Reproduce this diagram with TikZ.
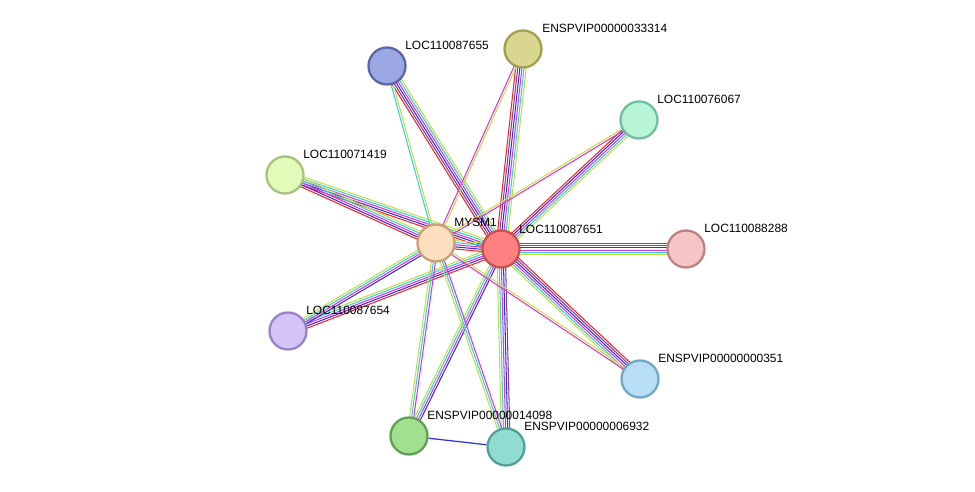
\documentclass[tikz,border=0pt]{standalone}
\usepackage{fontspec}
\setmainfont{Liberation Sans}
\usetikzlibrary{calc,backgrounds}
\definecolor{sred}{HTML}{FF2020}
\definecolor{slime}{HTML}{C0E040}
\definecolor{scyan}{HTML}{30D0E0}
\definecolor{smag}{HTML}{E030E0}
\definecolor{sblue}{HTML}{3030E0}
\definecolor{spurp}{HTML}{8040A0}
\tikzset{
  prot/.style={circle, draw, line width=1.3pt, minimum size=0.74cm, inner sep=0pt},
  lbl/.style={anchor=south west, inner sep=0pt, font=\fontsize{6.8}{7}\selectfont},
}
% bundle of parallel coloured lines between two nodes
\newcommand\bundle[3]{%
  \foreach \c [count=\i] in {#3} {
    \draw[\c, line width=0.6pt] ($(#1)!{(\i-#3len)*1.2pt}!90:(#2)$) -- ($(#2)!{(\i-#3len)*1.2pt}!-90:(#1)$);
  }}
\renewcommand\bundle[3]{%
  \foreach \c [count=\i] in {#3} {\xdef\bundlen{\i}}%
  \foreach \c [count=\i] in {#3} {
    \draw[\c, line width=0.6pt] ($(#1)!{(\i-(\bundlen+1)/2)*1.2pt}!90:(#2)$) -- ($(#2)!{(\i-(\bundlen+1)/2)*1.2pt}!-90:(#1)$);
  }}
\begin{document}
\begin{tikzpicture}[x=0.02cm,y=-0.02cm]
  \useasboundingbox (0,0) rectangle (975,492);
  % Proteine
  \node[prot, fill={rgb,255:red,255;green,128;blue,128}, draw={rgb,255:red,200;green,80;blue,80}] (n651) at (501,249) {};
  \node[prot, fill={rgb,255:red,253;green,222;blue,190}, draw={rgb,255:red,200;green,160;blue,120}] (mysm) at (436,243) {};
  \node[prot, fill={rgb,255:red,154;green,167;blue,227}, draw={rgb,255:red,90;green,102;blue,168}] (n655) at (387,66) {};
  \node[prot, fill={rgb,255:red,217;green,214;blue,143}, draw={rgb,255:red,160;green,160;blue,80}] (n314) at (523,49) {};
  \node[prot, fill={rgb,255:red,184;green,245;blue,214}, draw={rgb,255:red,112;green,192;blue,160}] (n067) at (639,120) {};
  \node[prot, fill={rgb,255:red,224;green,252;blue,184}, draw={rgb,255:red,168;green,192;blue,128}] (n419) at (285,175) {};
  \node[prot, fill={rgb,255:red,245;green,196;blue,196}, draw={rgb,255:red,192;green,128;blue,128}] (n288) at (686,249) {};
  \node[prot, fill={rgb,255:red,212;green,196;blue,248}, draw={rgb,255:red,154;green,128;blue,200}] (n654) at (288,331) {};
  \node[prot, fill={rgb,255:red,184;green,222;blue,245}, draw={rgb,255:red,112;green,168;blue,200}] (n351) at (640,379) {};
  \node[prot, fill={rgb,255:red,160;green,224;blue,144}, draw={rgb,255:red,96;green,160;blue,80}] (n098) at (409,436) {};
  \node[prot, fill={rgb,255:red,144;green,220;blue,208}, draw={rgb,255:red,80;green,160;blue,152}] (n932) at (506,447) {};

  % Beschriftungen
  \node[lbl] (l651) at (519,234) {LOC110087651};
  \node[lbl] (lmy) at (454,227) {MYSM1};
  \node[lbl] (l655) at (405,50) {LOC110087655};
  \node[lbl] (l314) at (542,33) {ENSPVIP00000033314};
  \node[lbl] (l067) at (657,104) {LOC110076067};
  \node[lbl] (l419) at (303,159) {LOC110071419};
  \node[lbl] (l288) at (704,233) {LOC110088288};
  \node[lbl] (l654) at (306,315) {LOC110087654};
  \node[lbl] (l351) at (658,363) {ENSPVIP00000000351};
  \node[lbl] (l098) at (427,420) {ENSPVIP00000014098};
  \node[lbl] (l932) at (524,431) {ENSPVIP00000006932};

  % Kanten
  \begin{scope}[on background layer]
    \bundle{n651}{n655}{slime,scyan,smag,sblue,spurp,sred}
    \bundle{n651}{n314}{slime,scyan,smag,sblue,spurp,sred}
    \bundle{n651}{n067}{slime,scyan,smag,sblue,sred}
    \bundle{n651}{n419}{slime,scyan,smag,sblue,sred}
    \bundle{n651}{n288}{slime,scyan,smag,sblue,spurp,sred}
    \bundle{n651}{n654}{slime,scyan,smag,sblue,sred}
    \bundle{n651}{n351}{slime,scyan,smag,sblue,spurp,sred}
    \bundle{n651}{n098}{slime,scyan,smag,sblue}
    \bundle{n651}{n932}{slime,scyan,smag,sblue,spurp}
    \bundle{n651}{mysm}{slime,scyan,smag,sblue,sred}
    \bundle{mysm}{n655}{slime,scyan}
    \bundle{mysm}{n314}{slime,smag}
    \bundle{mysm}{n067}{smag,slime}
    \bundle{mysm}{n419}{slime,scyan,smag,sblue,sred}
    \bundle{mysm}{n654}{slime,scyan,smag,sblue}
    \bundle{mysm}{n098}{slime,scyan,smag}
    \bundle{mysm}{n932}{slime,scyan,smag}
    \bundle{mysm}{n351}{smag,slime}
    \draw[sblue, line width=0.7pt] (n098) -- (n932);
  \end{scope}
\end{tikzpicture}
\end{document}
